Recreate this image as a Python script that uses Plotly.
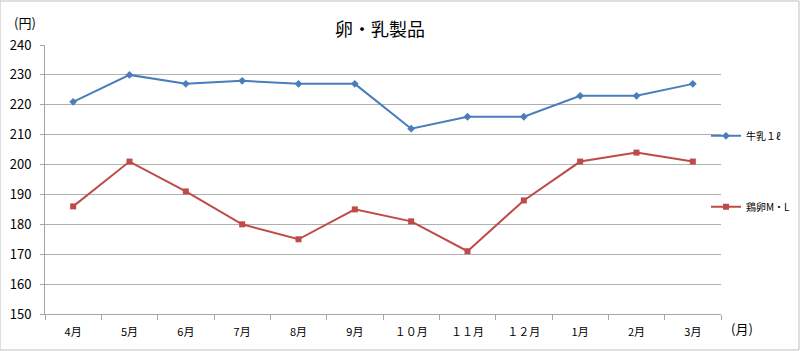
import plotly.graph_objects as go

months = ["4月", "5月", "6月", "7月", "8月", "9月", "１０月", "１１月", "１２月", "1月", "2月", "3月"]
milk = [221, 230, 227, 228, 227, 227, 212, 216, 216, 223, 223, 227]
eggs = [186, 201, 191, 180, 175, 185, 181, 171, 188, 201, 204, 201]
x_idx = list(range(len(months)))

FONT = "Noto Sans CJK JP"

fig = go.Figure()
fig.add_trace(go.Scatter(
    x=x_idx, y=milk, name="牛乳１ℓ", mode="lines+markers",
    line=dict(color="#4A7EBB", width=2),
    marker=dict(symbol="diamond", size=6, color="#4A7EBB"),
    legendgroup="a",
))
fig.add_trace(go.Scatter(
    x=x_idx, y=eggs, name="鶏卵M・L", mode="lines+markers",
    line=dict(color="#BE4B48", width=2),
    marker=dict(symbol="square", size=6, color="#BE4B48"),
    legendgroup="b",
))

fig.update_layout(
    width=800, height=351,
    margin=dict(l=45, r=79, t=45, b=37, autoexpand=False),
    paper_bgcolor="white", plot_bgcolor="white",
    font=dict(family=FONT, color="#404040"),
    title=dict(text="卵・乳製品", x=0.475, xanchor="center", y=0.915, yanchor="middle",
               font=dict(size=18, color="#000000", family=FONT)),
    showlegend=True,
    legend=dict(x=1 - 15/676, xanchor="left", y=0.735 - 5/269, yanchor="top",
                font=dict(size=10, color="#000000", family=FONT),
                tracegroupgap=52, itemwidth=30, bgcolor="rgba(0,0,0,0)"),
    xaxis=dict(
        range=[-0.5, 11.5], tickmode="array", tickvals=x_idx, ticktext=months,
        ticks="", showgrid=False, zeroline=False,
        showline=True, linecolor="#A6A6A6", linewidth=1,
        ticklabelstandoff=8,
        tickfont=dict(size=11, color="#000000", family=FONT),
        minor=dict(ticks="outside", tick0=-0.5, dtick=1, ticklen=5, tickcolor="#A6A6A6", showgrid=False),
    ),
    yaxis=dict(
        range=[150, 240], dtick=10, showgrid=True, gridcolor="#B0B0B0", gridwidth=1,
        zeroline=False, showline=True, linecolor="#A6A6A6", linewidth=1,
        ticks="outside", ticklen=4, tickcolor="#A6A6A6",
        ticklabelstandoff=6,
        tickfont=dict(size=13, color="#000000", family=FONT),
    ),
    shapes=[dict(type="rect", xref="paper", yref="paper", x0=-45/676, x1=1+78/676,
                 y0=-36/269, y1=1+44/269, line=dict(color="#BFBFBF", width=1))],
    annotations=[
        dict(text="(円)", xref="paper", yref="paper", x=-20/676, y=1+23/269,
             xanchor="center", yanchor="middle",
             showarrow=False, font=dict(size=13, color="#000000", family=FONT)),
        dict(text="(月)", xref="paper", yref="paper", x=1+21/676, y=-14/269,
             xanchor="center", yanchor="middle",
             showarrow=False, font=dict(size=13, color="#000000", family=FONT)),
    ],
)

fig.write_html("out.html")
